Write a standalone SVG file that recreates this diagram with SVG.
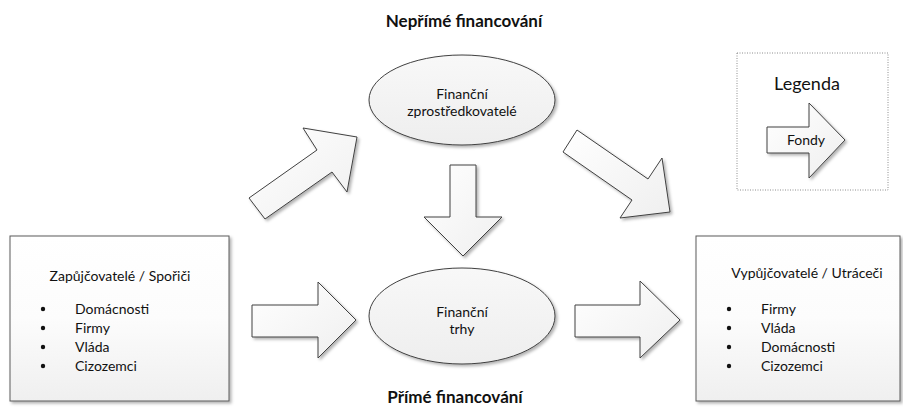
<svg xmlns="http://www.w3.org/2000/svg" width="903" height="407" viewBox="0 0 903 407">
  <style>
    text { font-family: Lato, "Open Sans", "Liberation Sans", sans-serif; fill: #111111; }
    .t { font-size: 14px; }
    .c { text-anchor: middle; }
    .h { font-size: 17px; font-weight: bold; text-anchor: middle; }
    .box { fill: url(#gBox); stroke: #5a5a5a; stroke-width: 1; filter: url(#sh); }
    .ell { fill: url(#gEll); stroke: #404040; stroke-width: 1; filter: url(#sh); }
    .arr { fill: url(#gArr); stroke: #404040; stroke-width: 1; stroke-linejoin: miter; filter: url(#sh); }
    .dot { fill: #111111; }
  </style>
  <defs>
    <filter id="sh" x="-10%" y="-10%" width="130%" height="130%">
      <feDropShadow dx="2" dy="2" stdDeviation="1.5" flood-color="#000" flood-opacity="0.3"/>
    </filter>
    <linearGradient id="gBox" x1="0" y1="0" x2="0" y2="1">
      <stop offset="0" stop-color="#ffffff"/>
      <stop offset="0.5" stop-color="#fcfcfc"/>
      <stop offset="1" stop-color="#efefef"/>
    </linearGradient>
    <linearGradient id="gEll" x1="0" y1="0" x2="0" y2="1">
      <stop offset="0" stop-color="#f8f8f8"/>
      <stop offset="1" stop-color="#eeeeee"/>
    </linearGradient>
    <linearGradient id="gArr" x1="0" y1="0" x2="1" y2="1">
      <stop offset="0" stop-color="#ffffff"/>
      <stop offset="1" stop-color="#efefef"/>
    </linearGradient>
  </defs>

  <text class="h" x="464" y="27">Nepřímé financování</text>
  <text class="h" x="455" y="403">Přímé financování</text>

  <g id="connectors">
    <polygon id="arrow-lenders-intermediaries" class="arr" points="249,198 317,150 303,128 357,137 347,192 332,172 265,219"/>
    <polygon id="arrow-intermediaries-borrowers" class="arr" points="577,130 648,179 662,158 670,212 620,218 632,200 563,152"/>
    <polygon id="arrow-intermediaries-markets" class="arr" points="450,165 476,165 476,217 502,217 463,256 424,217 450,217"/>
    <polygon id="arrow-lenders-markets" class="arr" points="252,305 318,305 318,282 356,320 318,358 318,337 252,337"/>
    <polygon id="arrow-markets-borrowers" class="arr" points="575,305 640,305 640,281 680,320 640,358 640,337 575,337"/>
  </g>

  <g id="lenders">
    <rect class="box" x="10" y="236" width="219" height="165"/>
    <text class="t c" x="120" y="281">Zapůjčovatelé / Spořiči</text>
    <circle class="dot" cx="43" cy="309" r="2.2"/>
    <circle class="dot" cx="43" cy="328" r="2.2"/>
    <circle class="dot" cx="43" cy="347" r="2.2"/>
    <circle class="dot" cx="43" cy="366" r="2.2"/>
    <text class="t" x="75" y="314">Domácnosti</text>
    <text class="t" x="75" y="333">Firmy</text>
    <text class="t" x="75" y="352">Vláda</text>
    <text class="t" x="75" y="371">Cizozemci</text>
  </g>

  <g id="borrowers">
    <rect class="box" x="696" y="236" width="204" height="165"/>
    <text class="t c" x="807" y="278">Vypůjčovatelé / Utráceči</text>
    <circle class="dot" cx="729" cy="309" r="2.2"/>
    <circle class="dot" cx="729" cy="328" r="2.2"/>
    <circle class="dot" cx="729" cy="347" r="2.2"/>
    <circle class="dot" cx="729" cy="366" r="2.2"/>
    <text class="t" x="761" y="314">Firmy</text>
    <text class="t" x="761" y="333">Vláda</text>
    <text class="t" x="761" y="352">Domácnosti</text>
    <text class="t" x="761" y="371">Cizozemci</text>
  </g>

  <g id="intermediaries">
    <ellipse class="ell" cx="462" cy="100" rx="93" ry="45"/>
    <text class="t c" x="462" y="99">Finanční</text>
    <text class="t c" x="462" y="116">zprostředkovatelé</text>
  </g>

  <g id="markets">
    <ellipse class="ell" cx="462" cy="316" rx="93" ry="48"/>
    <text class="t c" x="462" y="317">Finanční</text>
    <text class="t c" x="462" y="334">trhy</text>
  </g>

  <g id="legend">
    <rect x="737" y="53" width="151" height="137" fill="none" stroke="#8c8c8c" stroke-width="1" stroke-dasharray="1,1.5"/>
    <text x="807" y="90" style="font-size:18px" class="c">Legenda</text>
    <polygon class="arr" points="767,127 809,127 809,103 845,140 809,178 809,153 767,153"/>
    <text class="t c" x="806" y="145">Fondy</text>
  </g>
</svg>
